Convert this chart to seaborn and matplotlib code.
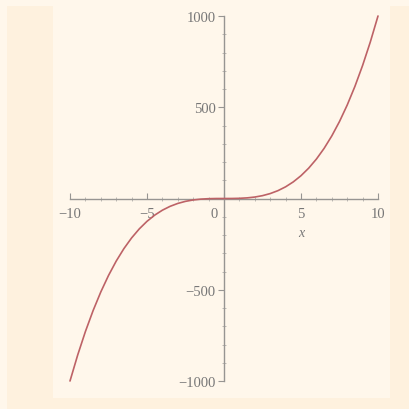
import numpy as np
import pandas as pd
import seaborn as sns
import matplotlib.pyplot as plt
from matplotlib.patches import Rectangle
from matplotlib.ticker import MultipleLocator
import matplotlib.transforms as mtransforms

# valores (y = x^3)
x_vals = [-10, -9.5, -9, -8.5, -8, -7.5, -7, -6.5, -6, -5.5, -5, -4.5, -4, -3.5,
          -3, -2.5, -2, -1.5, -1, -0.5, 0, 0.5, 1, 1.5, 2, 2.5, 3, 3.5, 4, 4.5,
          5, 5.5, 6, 6.5, 7, 7.5, 8, 8.5, 9, 9.5, 10]
y_vals = [-1000, -857.4, -729, -614.1, -512, -421.9, -343, -274.6, -216, -166.4,
          -125, -91.1, -64, -42.9, -27, -15.6, -8, -3.4, -1, -0.1, 0, 0.1, 1, 3.4,
          8, 15.6, 27, 42.9, 64, 91.1, 125, 166.4, 216, 274.6, 343, 421.9, 512,
          614.1, 729, 857.4, 1000]
x_ticks = [-10, -5, 0, 5, 10]
x_labels = ["\u221210", "\u22125", "0", "5", "10"]
y_ticks = [-1000, -500, 500, 1000]
y_labels = ["\u22121000", "\u2212500", "500", "1000"]

sns.set_theme(style="ticks")
plt.rcParams["font.family"] = ["Liberation Serif", "DejaVu Serif"]

CLARO = "#fff7eb"
OSCURO = "#fef1de"
GRIS = "#979592"
GRIS_MENOR = "#b3b0ab"
TEXTO = "#777777"
ROJO = "#bd6266"

fig = plt.figure(figsize=(4.09, 4.10), dpi=100, facecolor=CLARO)
fig.patches.append(Rectangle((7 / 409, 0), 1, 403 / 410, transform=fig.transFigure,
                             facecolor=OSCURO, edgecolor="none", zorder=-2))
fig.patches.append(Rectangle((53 / 409, 11 / 410), 337 / 409, 392 / 410,
                             transform=fig.transFigure, facecolor=CLARO,
                             edgecolor="none", zorder=-1))

ax = fig.add_axes([70 / 409, 28 / 410, 308 / 409, 365 / 410])
ax.set_facecolor("none")
ax.set_zorder(1)

df = pd.DataFrame({"x": x_vals, "y": y_vals})
sns.lineplot(data=df, x="x", y="y", ax=ax, color=ROJO, linewidth=1.2,
             estimator=None, sort=True, clip_on=False, zorder=3)

ax.set_xlim(-10, 10)
ax.set_ylim(-1000, 1000)

for s in ["top", "right"]:
    ax.spines[s].set_visible(False)
ax.spines["left"].set_position(("data", 0))
ax.spines["bottom"].set_position(("data", 0))
for s in ["left", "bottom"]:
    ax.spines[s].set_color(GRIS)
    ax.spines[s].set_linewidth(1.0)

ax.set_xticks(x_ticks)
ax.set_xticklabels(x_labels)
ax.set_yticks(y_ticks)
ax.set_yticklabels(y_labels)
ax.xaxis.set_minor_locator(MultipleLocator(1))
ax.yaxis.set_minor_locator(MultipleLocator(100))

ax.tick_params(axis="both", which="major", colors=GRIS, labelcolor=TEXTO,
               labelsize=10.5, width=0.8)
ax.tick_params(axis="x", which="major", direction="in", length=4, pad=6)
ax.tick_params(axis="y", which="major", direction="out", length=4, pad=2)
ax.tick_params(axis="both", which="minor", colors=GRIS_MENOR, direction="inout",
               length=2.5, width=0.6)

# el "0" va a la izquierda del eje vertical
for lbl in ax.get_xticklabels():
    if lbl.get_text() == "0":
        lbl.set_horizontalalignment("right")
        lbl.set_transform(lbl.get_transform() +
                          mtransforms.ScaledTranslation(-6 / 100, 0, fig.dpi_scale_trans))

ax.set_xlabel("x", fontstyle="italic", color=TEXTO, fontsize=10)
ax.set_ylabel("")
ax.xaxis.set_label_coords(0.75, 0.424)

fig.savefig("out.png", dpi=100, facecolor=CLARO)
